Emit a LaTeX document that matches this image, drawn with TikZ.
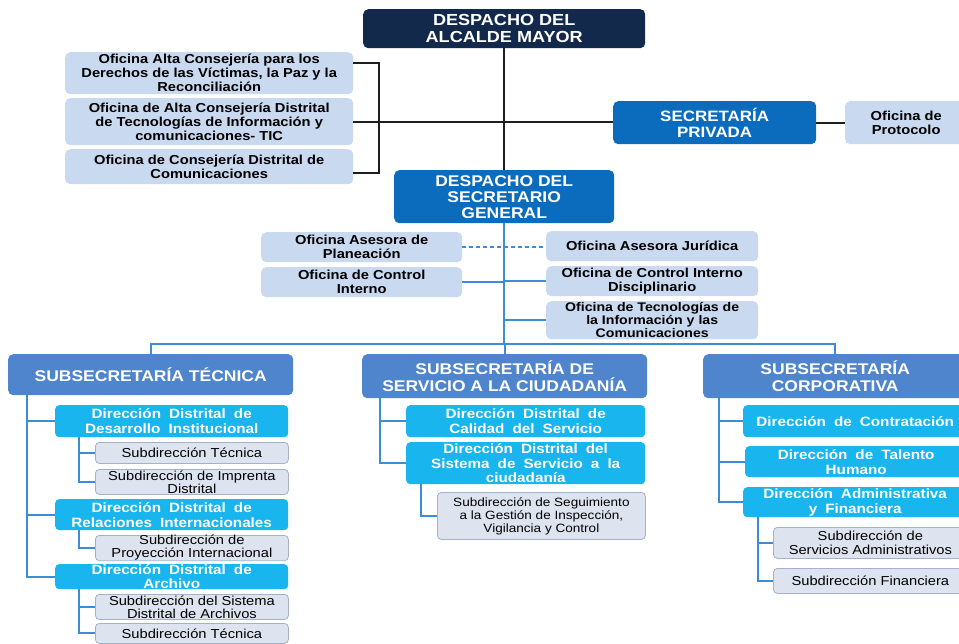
\documentclass[tikz,border=0pt]{standalone}
\usepackage{fontspec}
\setmainfont{Liberation Sans}[FakeStretch=1.13]
\newfontfamily\dirfont{Liberation Sans}[FakeStretch=1.13, WordSpace=1.9]
\definecolor{navy}{HTML}{13294B}
\definecolor{mblue}{HTML}{0B6CBE}
\definecolor{lblue}{HTML}{C9D9EF}
\definecolor{ssblue}{HTML}{4F85CC}
\definecolor{cyanb}{HTML}{19B5EE}
\definecolor{subfill}{HTML}{DEE4EF}
\definecolor{subdraw}{HTML}{A3B1CA}
\definecolor{linek}{HTML}{1E1E1E}
\definecolor{lineb}{HTML}{3A8DD6}
\begin{document}
\begin{tikzpicture}[x=1pt,y=1pt,
  box/.style={rounded corners=5pt, inner sep=0pt, align=center, anchor=north west},
  navybox/.style={box, fill=navy, text=white, font=\bfseries\fontsize{16}{17}\selectfont},
  bluebox/.style={box, fill=mblue, text=white, font=\bfseries\fontsize{15.5}{16}\selectfont},
  lbox/.style={box, fill=lblue, text=black, font=\bfseries\fontsize{13}{14}\selectfont},
  subsec/.style={box, fill=ssblue, text=white, font=\bfseries\fontsize{15.5}{17}\selectfont},
  dirbox/.style={box, rounded corners=4pt, fill=cyanb, text=white, font=\dirfont\bfseries\fontsize{13.5}{15}\selectfont},
  subbox/.style={box, rounded corners=4pt, fill=subfill, draw=subdraw, line width=0.8pt, text=black, font=\fontsize{13}{14}\selectfont},
  blk/.style={line width=2pt, draw=linek},
  bl/.style={line width=2pt, draw=lineb},
]
\useasboundingbox (0,0) rectangle (959,-644);
\clip (0,0) rectangle (959,-644);

% top level
\node[navybox, minimum width=282, minimum height=39] (alc) at (363,-9) {DESPACHO DEL\\ALCALDE MAYOR};
\node[lbox, minimum width=288, minimum height=42] (of1) at (65,-52) {Oficina Alta Consejería para los\\Derechos de las Víctimas, la Paz y la\\Reconciliación};
\node[lbox, minimum width=288, minimum height=47] (of2) at (65,-98) {Oficina de Alta Consejería Distrital\\de Tecnologías de Información y\\comunicaciones- TIC};
\node[lbox, minimum width=288, minimum height=35] (of3) at (65,-149) {Oficina de Consejería Distrital de\\Comunicaciones};
\node[bluebox, font=\bfseries\fontsize{15}{15.5}\selectfont, minimum width=203, minimum height=43] (sp) at (613,-101) {SECRETARÍA\\PRIVADA};
\node[lbox, minimum width=122, minimum height=43] (prot) at (845,-101) {Oficina de\\Protocolo};
\node[bluebox, minimum width=220, minimum height=53] (sg) at (394,-170) {DESPACHO DEL\\SECRETARIO\\GENERAL};

% offices of SG
\node[lbox, minimum width=201, minimum height=30] (plan) at (261,-232) {Oficina Asesora de\\Planeación};
\node[lbox, minimum width=201, minimum height=30] (oci) at (261,-267) {Oficina de Control\\Interno};
\node[lbox, minimum width=212, minimum height=30] (jur) at (546,-231) {Oficina Asesora Jurídica};
\node[lbox, minimum width=212, minimum height=30] (ocid) at (546,-266) {Oficina de Control Interno\\Disciplinario};
\node[lbox, font=\bfseries\fontsize{12.5}{13}\selectfont, minimum width=212, minimum height=38] (tic) at (546,-301) {Oficina de Tecnologías de\\la Información y las\\Comunicaciones};

% subsecretarias
\node[subsec, minimum width=285, minimum height=41] (st) at (8,-354) {SUBSECRETARÍA TÉCNICA};
\node[subsec, minimum width=285, minimum height=44] (ss) at (362,-354) {SUBSECRETARÍA DE\\SERVICIO A LA CIUDADANÍA};
\node[subsec, minimum width=264, minimum height=44] (sc) at (703,-354) {SUBSECRETARÍA\\CORPORATIVA};

% tecnica
\node[dirbox, minimum width=233, minimum height=32] (d11) at (55,-405) {Dirección Distrital de\\Desarrollo Institucional};
\node[subbox, minimum width=193, minimum height=21] (s111) at (95,-442) {Subdirección Técnica};
\node[subbox, font=\fontsize{13}{13}\selectfont, minimum width=193, minimum height=25] (s112) at (95,-469) {Subdirección de Imprenta\\Distrital};
\node[dirbox, minimum width=233, minimum height=31] (d12) at (55,-499) {Dirección Distrital de\\Relaciones Internacionales};
\node[subbox, font=\fontsize{13}{13}\selectfont, minimum width=193, minimum height=25] (s121) at (95,-535) {Subdirección de\\Proyección Internacional};
\node[dirbox, font=\dirfont\bfseries\fontsize{13.5}{13.5}\selectfont, minimum width=233, minimum height=25] (d13) at (55,-564) {Dirección Distrital de\\Archivo};
\node[subbox, font=\fontsize{13}{13}\selectfont, minimum width=193, minimum height=25] (s131) at (95,-594) {Subdirección del Sistema\\Distrital de Archivos};
\node[subbox, minimum width=193, minimum height=20] (s132) at (95,-623) {Subdirección Técnica};

% servicio
\node[dirbox, minimum width=239, minimum height=32] (d21) at (406,-405) {Dirección Distrital de\\Calidad del Servicio};
\node[dirbox, font=\dirfont\bfseries\fontsize{13.5}{14.5}\selectfont, minimum width=239, minimum height=42] (d22) at (406,-442) {Dirección Distrital del\\Sistema de Servicio a la\\ciudadanía};
\node[subbox, font=\fontsize{12}{13}\selectfont, minimum width=208, minimum height=47] (s221) at (437,-492) {Subdirección de Seguimiento\\a la Gestión de Inspección,\\Vigilancia y Control};

% corporativa
\node[dirbox, minimum width=224, minimum height=32] (d31) at (743,-405) {Dirección de Contratación};
\node[dirbox, minimum width=222, minimum height=31] (d32) at (745,-446) {Dirección de Talento\\Humano};
\node[dirbox, minimum width=224, minimum height=30] (d33) at (743,-487) {Dirección Administrativa\\y Financiera};
\node[subbox, minimum width=194, minimum height=31] (s331) at (773,-527) {Subdirección de\\Servicios Administrativos};
\node[subbox, minimum width=194, minimum height=25] (s332) at (773,-568) {Subdirección Financiera};

% black connectors (upper)
\coordinate (bt) at (379,-63);
\coordinate (bb) at (379,-173);
\draw[blk] (alc.south) -- (sg.north);
\draw[blk] (of1.east |- bt) -- (bt) -- (bb) -- (of3.east |- bb);
\draw[blk] (of2.east) -- (of2.east -| sp.west);
\draw[blk] (sp.east) -- (prot.west);

% blue connectors
\coordinate (bar) at (504,-344);
\draw[bl] (sg.south) -- (sg.south |- bar);
\draw[bl, dash pattern=on 4pt off 3pt] (plan.east) -- (plan.east -| jur.west);
\draw[bl] (oci.east) -- (oci.east -| sg.south);
\draw[bl] (ocid.west) -- (ocid.west -| sg.south);
\draw[bl] (tic.west) -- (tic.west -| sg.south);
\draw[bl] (st.north) -- (st.north |- bar) -- (sc.north |- bar) -- (sc.north);
\draw[bl] (ss.north) -- (ss.north |- bar);

\coordinate (t1) at (27,-395);
\draw[bl] (t1) |- (d11.west);
\draw[bl] (t1) |- (d12.west);
\draw[bl] (t1) |- (d13.west);
\coordinate (t11) at (79,-437);
\draw[bl] (t11) |- (s111.west);
\draw[bl] (t11) |- (s112.west);
\coordinate (t12) at (79,-530);
\draw[bl] (t12) |- (s121.west);
\coordinate (t13) at (79,-589);
\draw[bl] (t13) |- (s131.west);
\draw[bl] (t13) |- (s132.west);

\coordinate (t2) at (380,-398);
\draw[bl] (t2) |- (d21.west);
\draw[bl] (t2) |- (d22.west);
\coordinate (t22) at (421,-484);
\draw[bl] (t22) |- (s221.west);

\coordinate (t3) at (719,-398);
\draw[bl] (t3) |- (d31.west);
\draw[bl] (t3) |- (d32.west);
\draw[bl] (t3) |- (d33.west);
\coordinate (t33) at (758,-517);
\draw[bl] (t33) |- (s331.west);
\draw[bl] (t33) |- (s332.west);
\end{tikzpicture}
\end{document}
